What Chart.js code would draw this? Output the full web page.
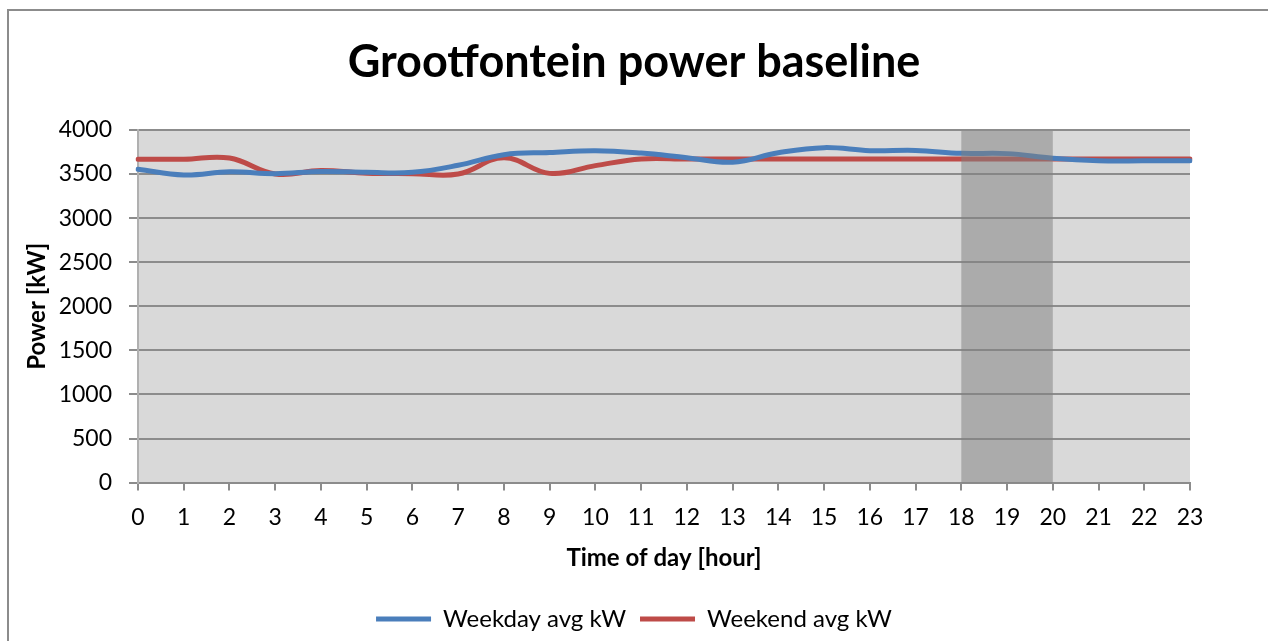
<!DOCTYPE html>
<html>
<head>
<meta charset="utf-8">
<script src="https://cdn.jsdelivr.net/npm/chart.js@4"></script>
<style>
  html, body { margin: 0; padding: 0; background: #fff; overflow: hidden; }
  #wrap { position: relative; width: 1268px; height: 641px; }
  #frame { position: absolute; left: 7px; top: 9px; width: 1300px; height: 700px;
           border-left: 2px solid #8c8c8c; border-top: 2px solid #8c8c8c; }
  canvas { position: absolute; left: 0; top: 0; }
</style>
</head>
<body>
<div id="wrap">
  <div id="frame"></div>
  <canvas id="myChart" width="1268" height="641"></canvas>
</div>
<script>
var hours = ["0", "1", "2", "3", "4", "5", "6", "7", "8", "9", "10", "11",
             "12", "13", "14", "15", "16", "17", "18", "19", "20", "21", "22", "23"]

var weekday = [3555, 3490, 3525, 3505, 3530, 3520, 3520, 3600, 3720, 3745, 3765, 3738,
               3685, 3635, 3742, 3800, 3765, 3768, 3735, 3732, 3680, 3652, 3650, 3650]

var weekend = [3668, 3668, 3682, 3502, 3540, 3510, 3505, 3500, 3685, 3508, 3596, 3672,
               3670, 3670, 3670, 3670, 3670, 3670, 3670, 3670, 3670, 3670, 3670, 3670]

// peak period shaded on the plot (hours)
var peakStart = 18
var peakEnd = 20

var font = "Lato, 'Open Sans', sans-serif"

var plotBg = {
    id: 'plotBg',
    beforeDraw: function (chart) {
        var a = chart.chartArea
        var c = chart.ctx
        c.save()
        c.fillStyle = '#d9d9d9'
        c.fillRect(a.left, a.top, a.right - a.left, a.bottom - a.top)
        c.restore()
    }
}

var peakShade = {
    id: 'peakShade',
    afterDatasetsDraw: function (chart) {
        var a = chart.chartArea
        var x = chart.scales.x
        var x1 = x.getPixelForValue(peakStart)
        var x2 = x.getPixelForValue(peakEnd)
        var c = chart.ctx
        c.save()
        c.fillStyle = 'rgba(128, 128, 128, 0.52)'
        c.fillRect(x1, a.top + 1, x2 - x1, a.bottom - a.top - 1)
        c.restore()
    }
}

var ctx = document.getElementById('myChart').getContext('2d')
var myChart = new Chart(ctx, {
    type: 'line',
    data: {
        labels: hours,
        datasets: [{
            label: 'Weekday avg kW',
            data: weekday,
            borderColor: '#4a7ebb',
            backgroundColor: '#4a7ebb',
            borderWidth: 5,
            borderCapStyle: 'round',
            pointRadius: 0,
            tension: 0.4
        }, {
            label: 'Weekend avg kW',
            data: weekend,
            borderColor: '#be4b48',
            backgroundColor: '#be4b48',
            borderWidth: 5,
            borderCapStyle: 'round',
            pointRadius: 0,
            tension: 0.4
        }]
    },
    options: {
        responsive: false,
        animation: false,
        layout: {
            padding: { left: 0, right: 0, top: 0, bottom: 0 }
        },
        plugins: {
            title: {
                display: true,
                text: 'Grootfontein power baseline',
                color: '#000',
                font: { family: font, size: 45, weight: 'bold' },
                padding: { top: 35, bottom: 41 }
            },
            legend: {
                position: 'bottom',
                labels: {
                    color: '#000',
                    font: { family: font, size: 24 },
                    usePointStyle: true,
                    pointStyle: 'line',
                    pointStyleWidth: 55,
                    padding: 14
                }
            },
            tooltip: { enabled: false }
        },
        scales: {
            x: {
                grid: {
                    drawOnChartArea: false,
                    drawTicks: true,
                    tickLength: 8,
                    color: '#8c8c8c',
                    lineWidth: 2
                },
                border: { color: '#8c8c8c', width: 2 },
                ticks: {
                    color: '#000',
                    font: { family: font, size: 23 },
                    maxRotation: 0,
                    autoSkip: false,
                    padding: 13
                },
                title: {
                    display: true,
                    text: 'Time of day [hour]',
                    color: '#000',
                    font: { family: font, size: 24, weight: 'bold' },
                    padding: { top: 0, bottom: 20 }
                }
            },
            y: {
                min: 0,
                max: 4000,
                afterFit: function (scale) { scale.width = 138 },
                grid: {
                    color: '#8c8c8c',
                    lineWidth: 2,
                    tickLength: 9
                },
                border: { color: '#b0b0b0', width: 2 },
                ticks: {
                    stepSize: 500,
                    color: '#000',
                    font: { family: font, size: 23 },
                    padding: 17,
                    callback: function (v) { return String(v) }
                },
                title: {
                    display: true,
                    text: 'Power [kW]',
                    color: '#000',
                    font: { family: font, size: 24, weight: 'bold' },
                    padding: { top: 23, bottom: 4 }
                }
            },
            // empty right-hand axis, only keeps the plot clear of the right edge
            yRight: {
                type: 'linear',
                position: 'right',
                afterFit: function (scale) { scale.width = 78 },
                grid: { display: false },
                border: { display: false },
                ticks: { display: false }
            }
        }
    },
    plugins: [plotBg, peakShade]
})
</script>
</body>
</html>
